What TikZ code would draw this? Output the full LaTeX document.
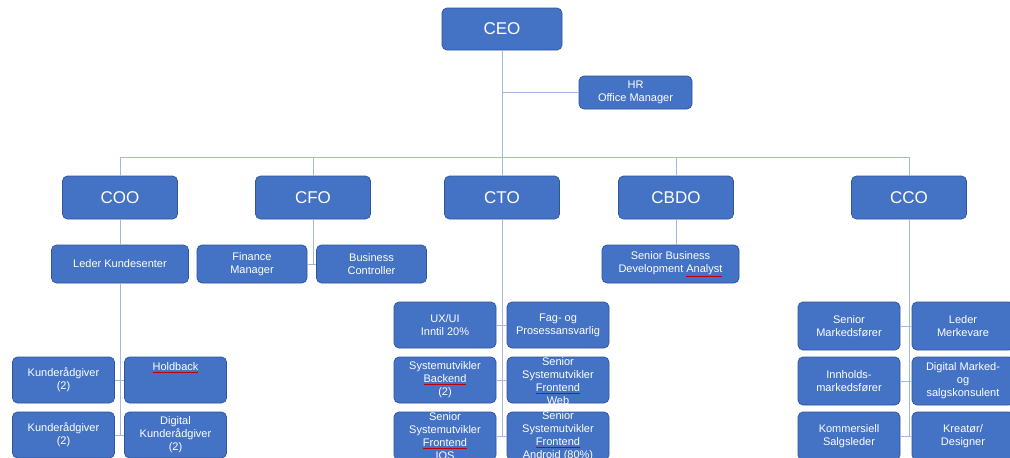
\documentclass[tikz,border=0pt]{standalone}
\usepackage{fontspec}
\setmainfont{Liberation Sans}
\definecolor{boxfill}{HTML}{4472C4}
\definecolor{boxline}{HTML}{2F5597}
\definecolor{conncol}{HTML}{A3B8DE}
\newcommand\spellchk[1]{{\color{red!75!black}\underline{\color{white}#1}}}
\begin{document}
\begin{tikzpicture}[x=1pt,y=-1pt,
  box/.style={draw=boxline, line width=0.7pt, fill=boxfill, rounded corners=5pt,
    text=white, align=center, inner sep=1pt, font=\fontsize{11}{13}\selectfont},
  big/.style={box, font=\fontsize{17}{20}\selectfont, minimum width=115pt, minimum height=43pt},
  mid/.style={box, minimum height=38pt},
  small/.style={box, minimum width=102pt, minimum height=46pt},
  ltext/.style={text=white, align=center, inner sep=0pt, font=\fontsize{11}{13}\selectfont},
  conn/.style={draw=conncol, line width=0.8pt}]
\useasboundingbox (0,0) rectangle (1010,458);
\clip (0,0) rectangle (1010,458);
\fill[white] (0,0) rectangle (1010,458);
% top
\node[big, minimum width=120pt, minimum height=42pt] (ceo) at (502,29) {CEO};
\node[box, minimum width=113pt, minimum height=33pt] (hr) at (635.5,92.5) {HR\\Office Manager};
% level 2
\node[big] (coo) at (120,197.5) {COO};
\node[big] (cfo) at (313,197.5) {CFO};
\node[big] (cto) at (502,197.5) {CTO};
\node[big] (cbdo) at (676,197.5) {CBDO};
\node[big] (cco) at (909,197.5) {CCO};
% level 3
\node[mid, minimum width=137pt] (lk) at (120,264) {Leder Kundesenter};
\node[mid, minimum width=110pt] (fm) at (252,264) {Finance\\Manager};
\node[mid, minimum width=110pt] (bc) at (371.5,264) {Business\\Controller};
\node[mid, minimum width=137pt] (sbda) at (670.5,264) {Senior Business\\Development \spellchk{Analyst}};
% COO children
\node[small] (k1) at (63.5,380) {Kunderådgiver\\(2)};
\node[small] (hb) at (175.5,380) {\spellchk{Holdback}\\\mbox{}\\\mbox{}};
\node[small] (k2) at (63.5,435) {Kunderådgiver\\(2)};
\node[small] (dk) at (175.5,435) {Digital\\Kunderådgiver\\(2)};
% CTO children
\node[small] (ux) at (445,325) {UX/UI\\Inntil 20\%};
\node[small] (fag) at (558,325) {Fag- og\\Prosessansvarlig};
\node[small] (sb) at (445,380) {Systemutvikler\\\spellchk{Backend}\\(2)};
\node[small] (sfw) at (558,380) {};
\node[ltext] (sfwt) at (558,381) {Senior\\Systemutvikler\\\spellchk{Frontend}\\Web};
\node[small, minimum height=48pt] (sfi) at (445,436) {};
\node[ltext] (sfit) at (445,436.5) {Senior\\Systemutvikler\\\spellchk{Frontend}\\IOS};
\node[small, minimum height=48pt] (sfa) at (558,436) {};
\node[ltext] (sfat) at (558,436.5) {Senior\\Systemutvikler\\\spellchk{Frontend}\\Android (80\%)};
% CCO children
\node[small, minimum height=48pt] (sm) at (849,326) {Senior\\Markedsfører};
\node[small, minimum height=48pt] (lm) at (963,326) {Leder\\Merkevare};
\node[small, minimum height=48pt] (im) at (849,381) {Innholds-\\markedsfører};
\node[small, minimum height=48pt] (dm) at (963,381) {Digital Marked-\\og\\salgskonsulent};
\node[small, minimum height=48pt] (ks) at (849,436) {Kommersiell\\Salgsleder};
\node[small, minimum height=48pt] (kd) at (963,436) {Kreatør/\\Designer};
% connectors
\coordinate (busL) at (120,157);
\coordinate (busR) at (909,157);
\draw[conn] (ceo.south) -- (ceo.south |- busL);
\draw[conn] (ceo.south |- hr.west) -- (hr.west);
\draw[conn] (busL) -- (busR);
\foreach \c in {coo,cfo,cto,cbdo,cco} \draw[conn] (\c.north) -- (\c.north |- busL);
\draw[conn] (coo.south) -- (lk.north);
\draw[conn] (lk.south) -- (lk.south |- k2.east);
\draw[conn] (k1.east) -- (hb.west);
\draw[conn] (k2.east) -- (dk.west);
\draw[conn] (cfo.south) -- (cfo.south |- fm.east);
\draw[conn] (fm.east) -- (bc.west);
\draw[conn] (cbdo.south) -- (cbdo.south |- sbda.north);
\draw[conn] (cto.south) -- (cto.south |- sfi.east);
\draw[conn] (ux.east) -- (fag.west);
\draw[conn] (sb.east) -- (sfw.west);
\draw[conn] (sfi.east) -- (sfa.west);
\draw[conn] (cco.south) -- (cco.south |- ks.east);
\draw[conn] (sm.east) -- (lm.west);
\draw[conn] (im.east) -- (dm.west);
\draw[conn] (ks.east) -- (kd.west);
\end{tikzpicture}
\end{document}
